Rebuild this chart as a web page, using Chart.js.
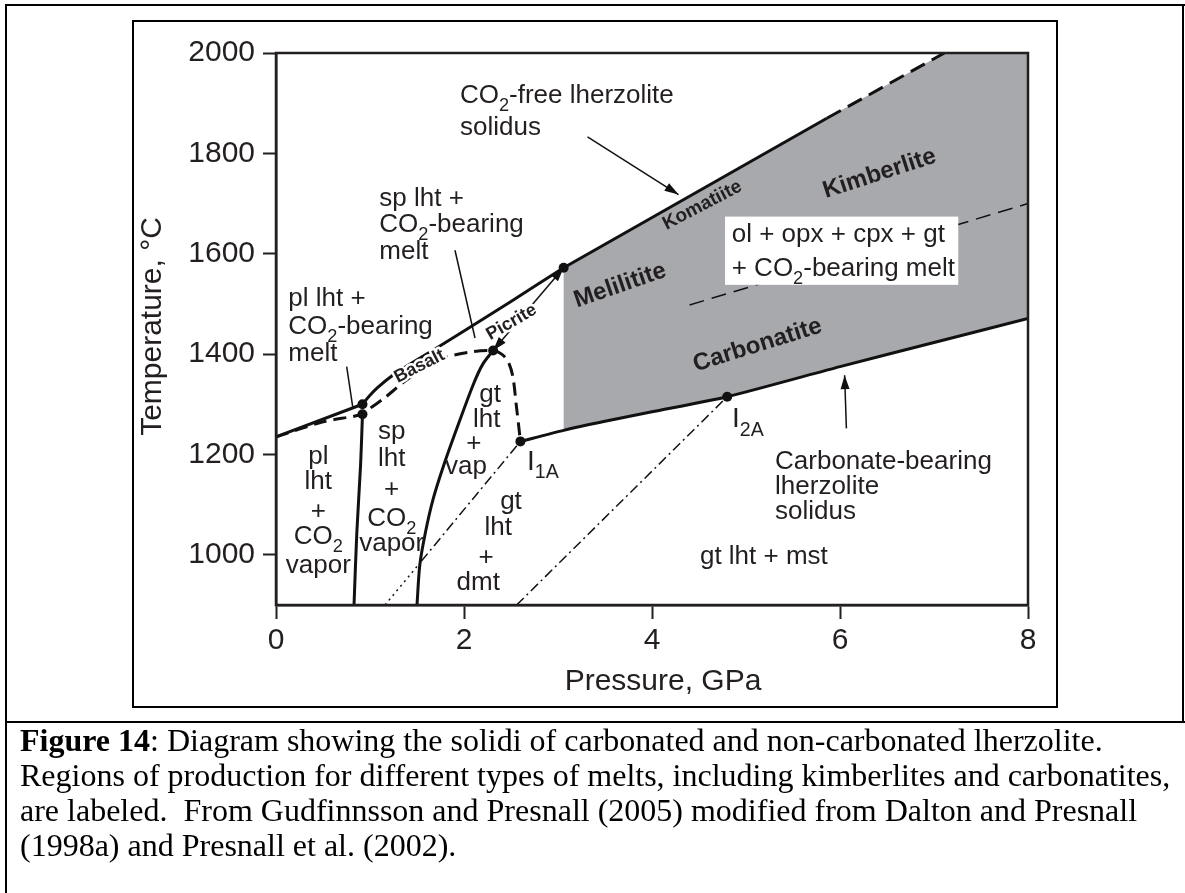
<!DOCTYPE html>
<html>
<head>
<meta charset="utf-8">
<title>Solidi of carbonated and non-carbonated lherzolite</title>
<script src="https://cdn.jsdelivr.net/npm/chart.js@4.4.1/dist/chart.umd.min.js"></script>
<style>
  html, body { margin: 0; padding: 0; background: #fff; }
  #page { position: relative; width: 1185px; height: 893px; overflow: hidden; }
  #phaseChart { position: absolute; left: 0; top: 0; }
  .rule { position: absolute; background: #000; }
  #figbox { position: absolute; left: 132px; top: 20px; width: 922px; height: 684px; border: 2px solid #000; }
  #caption {
    position: absolute; left: 20px; top: 723px;
    font-family: "Liberation Serif", "Times New Roman", serif;
    font-size: 32px; line-height: 35px; color: #000; white-space: nowrap;
  }
</style>
</head>
<body>
<div id="page">
  <canvas id="phaseChart" width="1185" height="893"></canvas>
  <div class="rule" style="left:5px; top:4px; width:1180px; height:2px;"></div>
  <div class="rule" style="left:5px; top:4px; width:2px; height:889px;"></div>
  <div class="rule" style="left:1182px; top:4px; width:2px; height:719px;"></div>
  <div class="rule" style="left:5px; top:721px; width:1180px; height:2px;"></div>
  <div id="figbox"></div>
  <div id="caption"><b>Figure 14</b>: Diagram showing the solidi of carbonated and non-carbonated lherzolite.<br>Regions of production for different types of melts, including kimberlites and carbonatites,<br>are labeled.&nbsp; From Gudfinnsson and Presnall (2005) modified from Dalton and Presnall<br>(1998a) and Presnall et al. (2002).</div>
</div>

<script>
// ---- axes ----
const xTicks = [0, 2, 4, 6, 8];                         // pressure, GPa
const yTicks = [1000, 1200, 1400, 1600, 1800, 2000];    // temperature, C
const tMin = 900;

// ---- phase boundaries (P in GPa, T in C) ----
// CO2-free lherzolite solidus (solid part), then its dashed extension
const freeSolidusP = [0, 0.92, 1.0, 1.08, 1.2, 1.4, 1.7, 2.0, 2.5, 3.06, 5.86];
const freeSolidusT = [1235, 1300, 1318, 1333, 1352, 1377, 1411, 1446, 1505, 1572, 1870];
const freeSolidusExtP = [5.86, 7.11];
const freeSolidusExtT = [1870, 2000];

// CO2-bearing solidus at low pressure (dashed)
const bearingP = [0, 0.5, 0.92, 1.0, 1.15, 1.4, 1.75, 2.1, 2.31, 2.40, 2.47, 2.52, 2.555, 2.58, 2.60];
const bearingT = [1235, 1265, 1280, 1292, 1312, 1350, 1390, 1405, 1407, 1400, 1385, 1355, 1300, 1260, 1226];

// plagioclase / spinel lherzolite boundary
const plSpP = [0.83, 0.86, 0.90, 0.92];
const plSpT = [900, 1045, 1180, 1280];

// spinel / garnet lherzolite boundary
const spGtP = [1.50, 1.53, 1.59, 1.67, 1.78, 1.93, 2.10, 2.20, 2.31];
const spGtT = [900, 980, 1045, 1110, 1176, 1255, 1340, 1380, 1407];

// carbonate-bearing lherzolite solidus
const carbSolidusP = [2.60, 3.06, 3.5, 4.0, 4.8, 6.0, 7.0, 8.0];
const carbSolidusT = [1226, 1248, 1266, 1285, 1315, 1375, 1423, 1471];

// dolomite reaction: dotted in sp lht field, dash-dot in gt lht field
const dmtDottedP = [1.16, 1.545];
const dmtDottedT = [900, 987];
const dmtP = [1.545, 2.60];
const dmtT = [987, 1226];

// magnesite reaction (dash-dot)
const mstP = [2.56, 4.80];
const mstT = [900, 1315];

// boundary inside the melt field (thin dashed)
const kimbP = [4.40, 8.0];
const kimbT = [1498, 1700];

// left edge of the shaded melt field
const shadeLeftP = 3.06;

// invariant / junction points
const pointP = [0.92, 0.92, 2.31, 2.60, 4.80, 3.06];
const pointT = [1300, 1280, 1407, 1226, 1315, 1572];

// pointers [fromP, fromT, toP, toT, heads]
const pointerLines = [
  [3.314, 1833, 4.282, 1718, 1],   // CO2-free lherzolite solidus
  [6.068, 1252, 6.049, 1358, 1],   // carbonate-bearing solidus
  [1.904, 1607, 2.117, 1432, 0],   // sp lht + CO2-bearing melt
  [0.752, 1375, 0.816, 1295, 0],   // pl lht + CO2-bearing melt
  [2.31, 1407, 3.06, 1572, 2]      // picrite range
];

const INK = '#231f20';
const SANS = '"Liberation Sans", Arial, Helvetica, sans-serif';

function pts(ps, ts) {
  return ps.map((p, i) => ({ x: p, y: ts[i] }));
}

// shaded field: CO2-free solidus on top, carbonate solidus below
function shadePolygon() {
  const top = pts(freeSolidusP, freeSolidusT).filter(d => d.x >= shadeLeftP)
    .concat(pts(freeSolidusExtP, freeSolidusExtT).slice(1));
  const low = pts(carbSolidusP, carbSolidusT).filter(d => d.x >= shadeLeftP);
  const xMax = xTicks[xTicks.length - 1], yMax = yTicks[yTicks.length - 1];
  const leftLow = { x: shadeLeftP, y: low[0].y };
  return [leftLow].concat(top, [{ x: xMax, y: yMax }], low.slice().reverse());
}

function line(data, width, extra) {
  return Object.assign({
    type: 'line', data: data, borderColor: '#111', borderWidth: width,
    pointRadius: 0, tension: 0, fill: false, order: 2
  }, extra || {});
}

// text with {subscript} parts
function drawRich(ctx, text, x, y, o) {
  const size = o.size || 26;
  const subSize = size * 0.7;
  const weight = o.bold ? 'bold ' : '';
  const parts = text.split(/(\{[^}]*\})/).filter(Boolean).map(s =>
    s[0] === '{' ? { s: s.slice(1, -1), sub: true } : { s: s, sub: false });
  let w = 0;
  parts.forEach(pt => {
    ctx.font = weight + (pt.sub ? subSize : size) + 'px ' + SANS;
    pt.w = ctx.measureText(pt.s).width;
    w += pt.w;
  });
  ctx.save();
  ctx.translate(x, y);
  if (o.angle) ctx.rotate(o.angle * Math.PI / 180);
  let cx = o.align === 'center' ? -w / 2 : 0;
  ctx.textAlign = 'left';
  ctx.textBaseline = 'alphabetic';
  parts.forEach(pt => {
    ctx.font = weight + (pt.sub ? subSize : size) + 'px ' + SANS;
    const yy = size * 0.35 + (pt.sub ? size * 0.3 : 0);
    if (o.halo) {
      ctx.strokeStyle = '#fff';
      ctx.lineWidth = 5;
      ctx.lineJoin = 'round';
      ctx.strokeText(pt.s, cx, yy);
    }
    ctx.fillStyle = INK;
    ctx.fillText(pt.s, cx, yy);
    cx += pt.w;
  });
  ctx.restore();
}

function arrowHead(ctx, x1, y1, x2, y2) {
  const a = Math.atan2(y2 - y1, x2 - x1), len = 14, half = 4.5;
  ctx.beginPath();
  ctx.moveTo(x2, y2);
  ctx.lineTo(x2 - len * Math.cos(a) + half * Math.sin(a), y2 - len * Math.sin(a) - half * Math.cos(a));
  ctx.lineTo(x2 - len * Math.cos(a) - half * Math.sin(a), y2 - len * Math.sin(a) + half * Math.cos(a));
  ctx.closePath();
  ctx.fill();
}

// field names and curve labels, placed in P-T coordinates
const labels = [
  { text: 'CO{2}-free lherzolite', p: 1.957, t: 1918 },
  { text: 'solidus', p: 1.957, t: 1855 },
  { text: 'sp lht +', p: 1.099, t: 1714 },
  { text: 'CO{2}-bearing', p: 1.099, t: 1662 },
  { text: 'melt', p: 1.099, t: 1607 },
  { text: 'pl lht +', p: 0.131, t: 1514 },
  { text: 'CO{2}-bearing', p: 0.131, t: 1458 },
  { text: 'melt', p: 0.131, t: 1404 },

  { text: 'pl', p: 0.45, t: 1199, align: 'center' },
  { text: 'lht', p: 0.45, t: 1149, align: 'center' },
  { text: '+', p: 0.45, t: 1089, align: 'center' },
  { text: 'CO{2}', p: 0.45, t: 1039, align: 'center' },
  { text: 'vapor', p: 0.45, t: 982, align: 'center' },

  { text: 'sp', p: 1.231, t: 1249, align: 'center' },
  { text: 'lht', p: 1.231, t: 1196, align: 'center' },
  { text: '+', p: 1.231, t: 1133, align: 'center' },
  { text: 'CO{2}', p: 1.231, t: 1076, align: 'center' },
  { text: 'vapor', p: 1.231, t: 1026, align: 'center' },

  { text: 'gt', p: 2.277, t: 1322, align: 'center' },
  { text: 'lht', p: 2.241, t: 1273, align: 'center' },
  { text: '+', p: 2.106, t: 1225, align: 'center' },
  { text: 'vap', p: 2.021, t: 1179, align: 'center' },

  { text: 'gt', p: 2.50, t: 1109, align: 'center' },
  { text: 'lht', p: 2.365, t: 1057, align: 'center' },
  { text: '+', p: 2.234, t: 998, align: 'center' },
  { text: 'dmt', p: 2.152, t: 948, align: 'center' },

  { text: 'I{1A}', p: 2.67, t: 1189, size: 28 },
  { text: 'I{2A}', p: 4.851, t: 1274, size: 28 },

  { text: 'Carbonate-bearing', p: 5.309, t: 1189 },
  { text: 'lherzolite', p: 5.309, t: 1140 },
  { text: 'solidus', p: 5.309, t: 1089 },
  { text: 'gt lht + mst', p: 4.51, t: 1000 },

  { text: 'Basalt', p: 1.521, t: 1378, size: 18, bold: true, angle: -27, align: 'center', halo: true },
  { text: 'Picrite', p: 2.50, t: 1466, size: 18, bold: true, angle: -30, align: 'center', halo: true },
  { text: 'Komatiite', p: 4.529, t: 1699, size: 19, bold: true, angle: -27.5, align: 'center' },
  { text: 'Kimberlite', p: 6.415, t: 1763, size: 24, bold: true, angle: -18, align: 'center' },
  { text: 'Melilitite', p: 3.655, t: 1540, size: 24, bold: true, angle: -19, align: 'center' },
  { text: 'Carbonatite', p: 5.117, t: 1421, size: 24, bold: true, angle: -17.3, align: 'center' }
];

const annotate = {
  id: 'annotate',
  afterDatasetsDraw(chart) {
    const ctx = chart.ctx, a = chart.chartArea;
    const xs = chart.scales.x, ys = chart.scales.y;
    const px = p => xs.getPixelForValue(p), py = t => ys.getPixelForValue(t);

    ctx.save();
    // plot frame
    ctx.strokeStyle = INK;
    ctx.lineWidth = 2.5;
    ctx.strokeRect(a.left, a.top, a.right - a.left, a.bottom - a.top);

    // pointers and arrows
    ctx.lineWidth = 1.5;
    ctx.fillStyle = '#111';
    ctx.strokeStyle = '#111';
    pointerLines.forEach(l => {
      const x1 = px(l[0]), y1 = py(l[1]), x2 = px(l[2]), y2 = py(l[3]);
      ctx.beginPath();
      ctx.moveTo(x1, y1);
      ctx.lineTo(x2, y2);
      ctx.stroke();
      if (l[4] >= 1) arrowHead(ctx, x1, y1, x2, y2);
      if (l[4] === 2) arrowHead(ctx, x2, y2, x1, y1);
    });

    // boxed field label over the dashed boundary
    ctx.fillStyle = '#fff';
    ctx.fillRect(px(4.777), py(1674), px(7.258) - px(4.777), py(1538) - py(1674));
    drawRich(ctx, 'ol + opx + cpx + gt', px(4.848), py(1641), {});
    drawRich(ctx, '+ CO{2}-bearing melt', px(4.848), py(1574), {});

    labels.forEach(l => drawRich(ctx, l.text, px(l.p), py(l.t), l));

    // axis titles
    ctx.fillStyle = INK;
    ctx.font = '30px ' + SANS;
    ctx.textAlign = 'center';
    ctx.textBaseline = 'middle';
    ctx.fillText('Pressure, GPa', (a.left + a.right) / 2 + 11, a.bottom + 77);
    ctx.translate(a.left - 123, (a.top + a.bottom) / 2 - 2.5);
    ctx.rotate(-Math.PI / 2);
    ctx.fillText('Temperature, \u00B0C', 0, 0);
    ctx.restore();
  }
};

const ctx = document.getElementById('phaseChart');

const phaseChart = new Chart(ctx, {
  type: 'scatter',
  data: {
    datasets: [
      { type: 'line', data: shadePolygon(), borderWidth: 0, pointRadius: 0, tension: 0,
        backgroundColor: '#a8a9ad', fill: 'shape', order: 9 },
      line(pts(freeSolidusP.slice(0, 2), freeSolidusT.slice(0, 2)), 3),
      line(pts(freeSolidusP.slice(1, 10), freeSolidusT.slice(1, 10)), 3, { tension: 0.3 }),
      line(pts(freeSolidusP.slice(9), freeSolidusT.slice(9)), 3),
      line(pts(freeSolidusExtP, freeSolidusExtT), 3, { borderDash: [16, 8] }),
      line(pts(bearingP, bearingT), 3, { borderDash: [13, 7], tension: 0.3 }),
      line(pts(plSpP, plSpT), 3, { tension: 0.3 }),
      line(pts(spGtP, spGtT), 3, { tension: 0.3 }),
      line(pts(carbSolidusP, carbSolidusT), 3, { tension: 0.2 }),
      line(pts(dmtDottedP, dmtDottedT), 1.5, { borderDash: [2, 4] }),
      line(pts(dmtP, dmtT), 1.5, { borderDash: [10, 4, 2, 4] }),
      line(pts(mstP, mstT), 1.5, { borderDash: [10, 4, 2, 4] }),
      line(pts(kimbP, kimbT), 1.5, { borderDash: [15, 8] }),
      { type: 'scatter', data: pts(pointP, pointT), pointRadius: 5, backgroundColor: '#111',
        borderWidth: 0, order: 0 }
    ]
  },
  options: {
    responsive: false,
    animation: false,
    events: [],
    layout: { padding: { left: 0, top: 53, right: 157, bottom: 228 } },
    plugins: { legend: { display: false }, tooltip: { enabled: false } },
    scales: {
      x: {
        type: 'linear', min: xTicks[0], max: xTicks[xTicks.length - 1],
        afterBuildTicks: s => { s.ticks = xTicks.map(v => ({ value: v })); },
        afterFit: s => { s.height = 60; },
        grid: { drawOnChartArea: false, tickLength: 14, tickColor: INK, tickWidth: 2 },
        border: { color: INK, width: 2.5 },
        ticks: { color: INK, font: { size: 30, family: SANS }, padding: 4, maxRotation: 0,
                 callback: v => String(v) }
      },
      y: {
        type: 'linear', min: tMin, max: yTicks[yTicks.length - 1],
        afterBuildTicks: s => { s.ticks = yTicks.map(v => ({ value: v })); },
        afterFit: s => { s.width = 276; },
        grid: { drawOnChartArea: false, tickLength: 13, tickColor: INK, tickWidth: 2 },
        border: { color: INK, width: 2.5 },
        ticks: { color: INK, font: { size: 30, family: SANS }, padding: 8,
                 callback: v => String(v) }
      }
    }
  },
  plugins: [annotate]
});
</script>
</body>
</html>
